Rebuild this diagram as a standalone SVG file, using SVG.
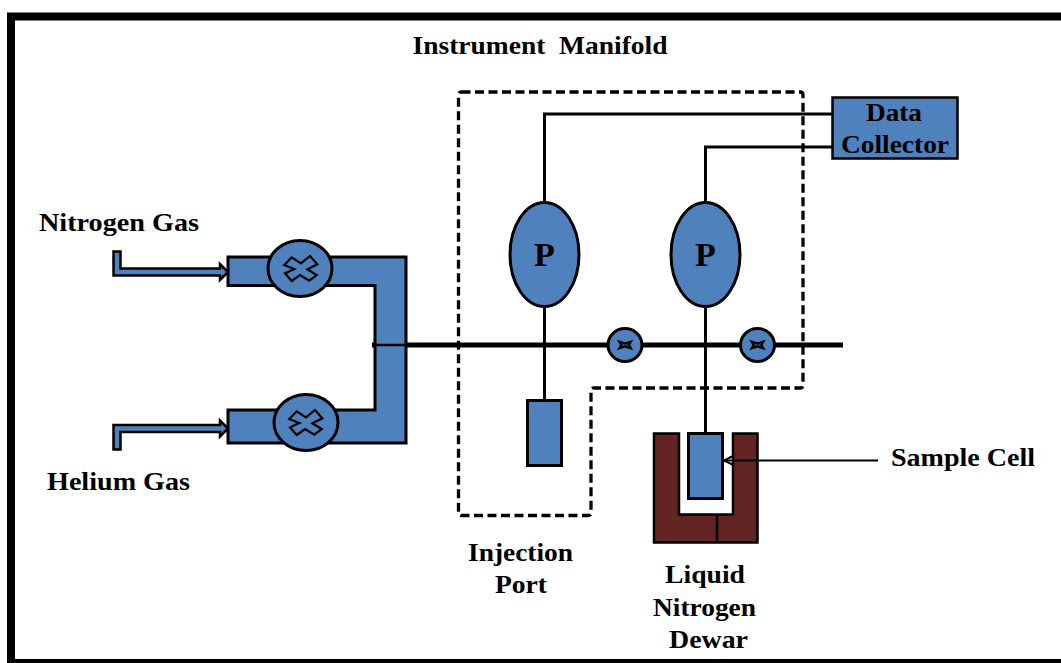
<svg xmlns="http://www.w3.org/2000/svg" width="1061" height="663" viewBox="0 0 1061 663">
<style>
.t{font-family:"Liberation Serif","Times New Roman",serif;font-weight:bold;font-size:25px;fill:#000;text-anchor:middle}
.p{font-size:34px}
.b{fill:#4f81bd;stroke:#000;stroke-width:3}
.s{fill:#4f81bd;stroke:#000;stroke-width:2.500}
.w{fill:#632523;stroke:#000;stroke-width:2.500}
.l{fill:none;stroke:#000;stroke-width:3}
.x{fill:none;stroke:#000;stroke-width:2.200}
.v{fill:#27405f;stroke:#000;stroke-width:2}
</style>
<rect width="1061" height="663" fill="#fff"/>
<path d="M7 12.500H1061V20.500H15V659H1061V663H7Z" fill="#000"/>
<g id="connectors">
<path class="l" d="M544.500 203V114H833"/>
<path class="l" d="M705.500 203V147H833"/>
<path d="M372 345H843" stroke="#000" stroke-width="5" fill="none"/>
<path class="l" d="M544.500 306V401"/>
<path class="l" d="M705.500 306V434"/>
<path d="M461.500 92H800Q803 92 803 95V385Q803 388 800 388H594Q591 388 591 391V512.500Q591 515.500 588 515.500H461.500Q458.500 515.500 458.500 512.500V95Q458.500 92 461.500 92Z" fill="none" stroke="#000" stroke-width="3.300" stroke-dasharray="9 4.500"/>
</g>
<g id="manifold">
<path class="b" d="M228 257H406V443H228V410H375V285.500H228Z"/>
<path d="M372 345H406" stroke="#000" stroke-width="2.500"/>
</g>
<g id="nitrogen-inlet">
<path class="s" d="M113.500 251.500H120.500V268.500H220V264L228 272L220 280V275.500H113.500Z"/>
</g>
<g id="helium-inlet">
<path class="s" d="M113.500 449.500H120.500V432H220V436.500L228 428.500L220 420.500V425H113.500Z"/>
</g>
<g id="valve-nitrogen">
<ellipse class="b" cx="300" cy="268.500" rx="32" ry="28"/>
<path class="x" d="M284.300 265L291.700 257.300L301 263.300L310 256L317.300 264.300L307.300 269.300L316.700 275L309.300 280.700L300 275L291.700 281L285 273.300L294.300 269Z"/>
</g>
<g id="valve-helium">
<ellipse class="b" cx="306" cy="422.500" rx="32" ry="28"/>
<path class="x" transform="translate(5 154)" d="M284.300 265L291.700 257.300L301 263.300L310 256L317.300 264.300L307.300 269.300L316.700 275L309.300 280.700L300 275L291.700 281L285 273.300L294.300 269Z"/>
</g>
<g id="pressure-1">
<ellipse class="b" cx="544.500" cy="254.500" rx="34.500" ry="52"/>
<text class="t p" x="544.500" y="266">P</text>
</g>
<g id="pressure-2">
<ellipse class="b" cx="705.500" cy="254.500" rx="34.500" ry="52"/>
<text class="t p" x="705.500" y="266">P</text>
</g>
<g id="valve-3">
<ellipse class="b" cx="625" cy="345" rx="17" ry="16.500"/>
<path class="v" d="M619 341.500L625 343.500L631 341.500L629 345L631 348.500L625 346.500L619 348.500L621 345Z"/>
</g>
<g id="valve-4">
<ellipse class="b" cx="757.500" cy="345" rx="17" ry="16.500"/>
<path class="v" d="M751.500 341.500L757.500 343.500L763.500 341.500L761.500 345L763.500 348.500L757.500 346.500L751.500 348.500L753.500 345Z"/>
</g>
<g id="injection-port">
<rect class="b" x="527.500" y="400.500" width="34" height="65"/>
</g>
<g id="dewar">
<path class="w" d="M654 433.500H679V514.500H733V433.500H757.500V542.500H654Z"/>
<path d="M717 514.500V542.500" stroke="#000" stroke-width="2.500"/>
</g>
<g id="sample-cell">
<rect class="b" x="688.500" y="433.500" width="34" height="65"/>
<path d="M878 460.500H724" stroke="#000" stroke-width="2" fill="none"/>
<path d="M733 456L724 460.500L733 465Z" fill="none" stroke="#000" stroke-width="2"/>
</g>
<g id="data-collector">
<rect class="s" x="832.500" y="97.500" width="125" height="61"/>
<text class="t" x="894" y="121" textLength="56" lengthAdjust="spacingAndGlyphs">Data</text>
<text class="t" x="895" y="153" textLength="108" lengthAdjust="spacingAndGlyphs">Collector</text>
</g>
<g id="labels">
<text class="t" x="540" y="54" textLength="255" lengthAdjust="spacingAndGlyphs" xml:space="preserve">Instrument  Manifold</text>
<text class="t" x="119" y="231" textLength="160" lengthAdjust="spacingAndGlyphs">Nitrogen Gas</text>
<text class="t" x="118.500" y="490" textLength="143" lengthAdjust="spacingAndGlyphs">Helium Gas</text>
<text class="t" x="963" y="466" textLength="144" lengthAdjust="spacingAndGlyphs">Sample Cell</text>
<text class="t" x="520.500" y="561" textLength="105" lengthAdjust="spacingAndGlyphs">Injection</text>
<text class="t" x="521" y="593" textLength="52" lengthAdjust="spacingAndGlyphs">Port</text>
<text class="t" x="705" y="583" textLength="80" lengthAdjust="spacingAndGlyphs">Liquid</text>
<text class="t" x="704.500" y="616" textLength="103" lengthAdjust="spacingAndGlyphs">Nitrogen</text>
<text class="t" x="708.500" y="648" textLength="79" lengthAdjust="spacingAndGlyphs">Dewar</text>
</g>
</svg>
